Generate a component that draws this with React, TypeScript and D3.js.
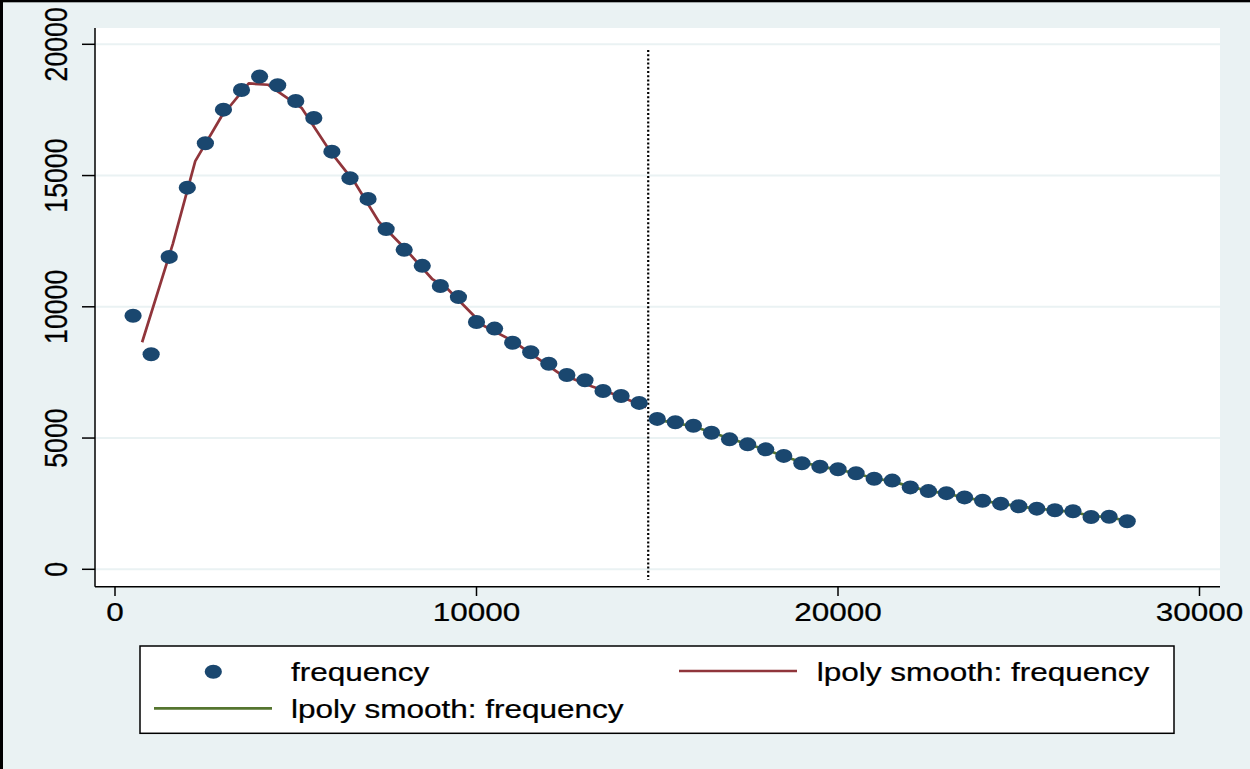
import React from "react";
import * as d3 from "d3";

// binned counts (bin centre, frequency)
const binX = [
  500, 1000, 1500, 2000, 2500, 3000, 3500, 4000, 4500, 5000, 5500, 6000, 6500, 7000,
  7500, 8000, 8500, 9000, 9500, 10000, 10500, 11000, 11500, 12000, 12500, 13000, 13500,
  14000, 14500, 15000, 15500, 16000, 16500, 17000, 17500, 18000, 18500, 19000, 19500,
  20000, 20500, 21000, 21500, 22000, 22500, 23000, 23500, 24000, 24500, 25000, 25500,
  26000, 26500, 27000, 27500, 28000,
];
const frequency = [
  9660, 8190, 11900, 14540, 16230, 17510, 18260, 18770, 18440, 17840, 17190, 15910, 14900,
  14110, 12960, 12170, 11560, 10790, 10370, 9420, 9170, 8630, 8270, 7830, 7400, 7200, 6790,
  6600, 6340, 5730, 5600, 5470, 5200, 4950, 4760, 4570, 4320, 4040, 3910, 3810, 3660, 3450,
  3380, 3120, 2980, 2900, 2740, 2610, 2500, 2400, 2310, 2250, 2210, 1990, 2000, 1830,
];

// lpoly smooth, left of cutoff
const smoothLeftX = [
  750, 1600, 2220, 2940, 3700, 4230, 5160, 5960, 6650, 7300, 8000, 8780, 9210, 10200,
  11000, 12280, 13200, 14000, 14690,
];
const smoothLeftY = [
  8650, 12400, 15550, 17240, 18510, 18460, 17580, 15910, 14700, 13240, 12250, 11050,
  10670, 9280, 8700, 7470, 6960, 6570, 6170,
];

// lpoly smooth, right of cutoff
const smoothRightX = [
  15000, 15500, 16000, 16500, 17000, 17500, 18000, 18500, 19000, 19500, 20000, 20500,
  21000, 21500, 22000, 22500, 23000, 23500, 24000, 24500, 25000, 25500, 26000, 26500,
  27000, 27500, 28000,
];
const smoothRightY = [
  5690, 5580, 5440, 5220, 4980, 4770, 4560, 4310, 4080, 3920, 3800, 3650, 3470, 3350,
  3150, 2990, 2880, 2740, 2610, 2500, 2400, 2310, 2250, 2180, 2040, 1980, 1850,
];

const cutoff = 14750;
const xTicks = [0, 10000, 20000, 30000];
const yTicks = [0, 5000, 10000, 15000, 20000];
const legendLabels = ["frequency", "lpoly smooth: frequency", "lpoly smooth: frequency"];

const W = 1250;
const H = 769;
const plot = { left: 95, right: 1220, top: 28, bottom: 586.7 };
const BG = "#eaf2f3";
const NAVY = "#1a476f";
const MAROON = "#90353b";
const GREEN = "#55752f";
const FONT = "'Liberation Sans', Arial, sans-serif";
const SX = 1.18; // the source picture is stretched sideways

export default function App() {
  const x = d3.scaleLinear().domain([0, 30000]).range([115, 1199.5]);
  const y = d3.scaleLinear().domain([0, 20000]).range([569.3, 44.3]);

  const line = d3
    .line<[number, number]>()
    .x((d) => x(d[0]))
    .y((d) => y(d[1]));
  const left = line(smoothLeftX.map((v, i) => [v, smoothLeftY[i]] as [number, number]));
  const right = line(smoothRightX.map((v, i) => [v, smoothRightY[i]] as [number, number]));

  const txt = (tx: number, ty: number, s: string, anchor = "start", rot = false) => (
    <text
      key={s + tx + ty}
      transform={`translate(${tx},${ty}) scale(${SX},1)${rot ? " rotate(-90)" : ""}`}
      textAnchor={anchor}
      fontFamily={FONT}
      fontSize={26.7}
      fill="#000"
      stroke="#000"
      strokeWidth={0.25}
    >
      {s}
    </text>
  );

  return (
    <svg
      width={W}
      height={H}
      style={{ position: "absolute", left: 0, top: 0 }}
      viewBox={`0 0 ${W} ${H}`}
    >
      <rect width={W} height={H} fill={BG} />
      <rect x={0} y={0} width={3} height={H} fill="#000" />
      <rect x={0} y={0} width={W} height={2.3} fill="#000" />

      <rect
        x={plot.left}
        y={plot.top}
        width={plot.right - plot.left}
        height={plot.bottom - plot.top}
        fill="#fff"
      />

      {yTicks.map((t) => (
        <line
          key={"g" + t}
          x1={plot.left}
          x2={plot.right}
          y1={y(t)}
          y2={y(t)}
          stroke={BG}
          strokeWidth={2}
        />
      ))}

      <line
        x1={x(cutoff)}
        x2={x(cutoff)}
        y1={50}
        y2={580}
        stroke="#000"
        strokeWidth={2.2}
        strokeDasharray="2,2.2"
      />

      <path d={left ?? ""} fill="none" stroke={MAROON} strokeWidth={2.7} strokeLinejoin="round" />
      <path d={right ?? ""} fill="none" stroke={GREEN} strokeWidth={2.7} strokeLinejoin="round" />

      {binX.map((v, i) => (
        <ellipse key={"p" + v} cx={x(v)} cy={y(frequency[i])} rx={8.6} ry={7} fill={NAVY} />
      ))}

      {/* axes */}
      <line x1={plot.left} x2={plot.left} y1={plot.top} y2={plot.bottom} stroke="#000" strokeWidth={1.5} />
      <line x1={plot.left} x2={plot.right} y1={plot.bottom} y2={plot.bottom} stroke="#000" strokeWidth={1.5} />
      {yTicks.map((t) => (
        <g key={"y" + t}>
          <line x1={82} x2={plot.left} y1={y(t)} y2={y(t)} stroke="#000" strokeWidth={1.5} />
          {txt(67, y(t), String(t), "middle", true)}
        </g>
      ))}
      {xTicks.map((t) => (
        <g key={"x" + t}>
          <line x1={x(t)} x2={x(t)} y1={plot.bottom} y2={596} stroke="#000" strokeWidth={1.5} />
          {txt(x(t), 621, String(t), "middle")}
        </g>
      ))}

      {/* legend */}
      <rect x={140} y={646} width={1034} height={87.3} fill="#fff" stroke="#000" strokeWidth={1.5} />
      <ellipse cx={213.3} cy={671.7} rx={8.6} ry={7} fill={NAVY} />
      {txt(291, 680.5, legendLabels[0])}
      <line x1={679} x2={797} y1={671} y2={671} stroke={MAROON} strokeWidth={2.7} />
      {txt(816.7, 680.5, legendLabels[1])}
      <line x1={154} x2={272} y1={708.3} y2={708.3} stroke={GREEN} strokeWidth={2.7} />
      {txt(291, 718.3, legendLabels[2])}
    </svg>
  );
}
